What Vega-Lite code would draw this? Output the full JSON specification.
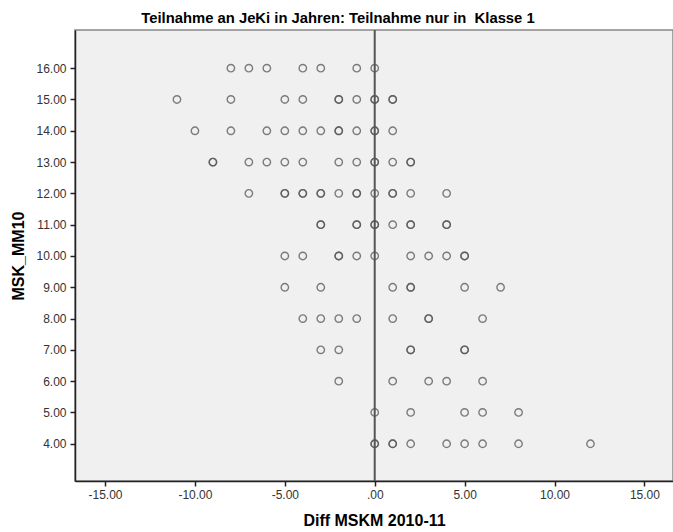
{
  "$schema": "https://vega.github.io/schema/vega-lite/v6.json",
  "width": 598,
  "height": 451,
  "autosize": {"type": "none"},
  "padding": {"left": 75, "top": 30, "right": 0, "bottom": 51},
  "background": "white",
  "config": {
    "view": {"fill": "#f0f0f0", "stroke": "#888888", "strokeWidth": 1.5},
    "font": "Liberation Sans"
  },
  "title": {
    "text": "Teilnahme an JeKi in Jahren: Teilnahme nur in \u00a0Klasse 1",
    "fontSize": 14.8,
    "fontWeight": "bold",
    "font": "Liberation Sans",
    "color": "#000000",
    "anchor": "middle",
    "dx": -36,
    "offset": 3
  },
  "datasets": {
    "points": [
      {"diff": -8, "msk": 16}, {"diff": -7, "msk": 16}, {"diff": -6, "msk": 16}, {"diff": -4, "msk": 16}, {"diff": -3, "msk": 16}, {"diff": -1, "msk": 16}, {"diff": 0, "msk": 16},
      {"diff": -11, "msk": 15}, {"diff": -8, "msk": 15}, {"diff": -5, "msk": 15}, {"diff": -4, "msk": 15}, {"diff": -2, "msk": 15}, {"diff": -2, "msk": 15}, {"diff": -1, "msk": 15}, {"diff": 0, "msk": 15}, {"diff": 0, "msk": 15}, {"diff": 1, "msk": 15}, {"diff": 1, "msk": 15},
      {"diff": -10, "msk": 14}, {"diff": -8, "msk": 14}, {"diff": -6, "msk": 14}, {"diff": -5, "msk": 14}, {"diff": -4, "msk": 14}, {"diff": -3, "msk": 14}, {"diff": -2, "msk": 14}, {"diff": -2, "msk": 14}, {"diff": -1, "msk": 14}, {"diff": 0, "msk": 14}, {"diff": 0, "msk": 14}, {"diff": 1, "msk": 14},
      {"diff": -9, "msk": 13}, {"diff": -9, "msk": 13}, {"diff": -7, "msk": 13}, {"diff": -6, "msk": 13}, {"diff": -5, "msk": 13}, {"diff": -4, "msk": 13}, {"diff": -2, "msk": 13}, {"diff": -1, "msk": 13}, {"diff": 0, "msk": 13}, {"diff": 0, "msk": 13}, {"diff": 1, "msk": 13}, {"diff": 2, "msk": 13}, {"diff": 2, "msk": 13},
      {"diff": -7, "msk": 12}, {"diff": -5, "msk": 12}, {"diff": -5, "msk": 12}, {"diff": -4, "msk": 12}, {"diff": -4, "msk": 12}, {"diff": -3, "msk": 12}, {"diff": -3, "msk": 12}, {"diff": -2, "msk": 12}, {"diff": -1, "msk": 12}, {"diff": -1, "msk": 12}, {"diff": 0, "msk": 12}, {"diff": 1, "msk": 12}, {"diff": 1, "msk": 12}, {"diff": 2, "msk": 12}, {"diff": 4, "msk": 12},
      {"diff": -3, "msk": 11}, {"diff": -3, "msk": 11}, {"diff": -1, "msk": 11}, {"diff": -1, "msk": 11}, {"diff": 0, "msk": 11}, {"diff": 0, "msk": 11}, {"diff": 1, "msk": 11}, {"diff": 2, "msk": 11}, {"diff": 2, "msk": 11}, {"diff": 4, "msk": 11}, {"diff": 4, "msk": 11},
      {"diff": -5, "msk": 10}, {"diff": -4, "msk": 10}, {"diff": -2, "msk": 10}, {"diff": -2, "msk": 10}, {"diff": -1, "msk": 10}, {"diff": 0, "msk": 10}, {"diff": 2, "msk": 10}, {"diff": 3, "msk": 10}, {"diff": 4, "msk": 10}, {"diff": 5, "msk": 10}, {"diff": 5, "msk": 10},
      {"diff": -5, "msk": 9}, {"diff": -3, "msk": 9}, {"diff": 1, "msk": 9}, {"diff": 2, "msk": 9}, {"diff": 2, "msk": 9}, {"diff": 5, "msk": 9}, {"diff": 7, "msk": 9},
      {"diff": -4, "msk": 8}, {"diff": -3, "msk": 8}, {"diff": -2, "msk": 8}, {"diff": -1, "msk": 8}, {"diff": 1, "msk": 8}, {"diff": 3, "msk": 8}, {"diff": 3, "msk": 8}, {"diff": 6, "msk": 8},
      {"diff": -3, "msk": 7}, {"diff": -2, "msk": 7}, {"diff": 2, "msk": 7}, {"diff": 2, "msk": 7}, {"diff": 5, "msk": 7}, {"diff": 5, "msk": 7},
      {"diff": -2, "msk": 6}, {"diff": 1, "msk": 6}, {"diff": 3, "msk": 6}, {"diff": 4, "msk": 6}, {"diff": 6, "msk": 6},
      {"diff": 0, "msk": 5}, {"diff": 2, "msk": 5}, {"diff": 5, "msk": 5}, {"diff": 6, "msk": 5}, {"diff": 8, "msk": 5},
      {"diff": 0, "msk": 4}, {"diff": 0, "msk": 4}, {"diff": 1, "msk": 4}, {"diff": 1, "msk": 4}, {"diff": 2, "msk": 4}, {"diff": 4, "msk": 4}, {"diff": 5, "msk": 4}, {"diff": 6, "msk": 4}, {"diff": 8, "msk": 4}, {"diff": 12, "msk": 4}
    ],
    "refline": [{"x": 0}]
  },
  "layer": [
    {
      "data": {"name": "refline"},
      "mark": {"type": "rule", "color": "#555555", "strokeWidth": 2},
      "encoding": {
        "x": {"field": "x", "type": "quantitative", "scale": {"domain": [-16.67, 16.59], "nice": false, "zero": false}}
      }
    },
    {
      "data": {"name": "points"},
      "mark": {"type": "point", "shape": "circle", "filled": false, "size": 55, "strokeWidth": 1.4, "color": "#555555", "opacity": 0.75},
      "encoding": {
        "x": {
          "field": "diff", "type": "quantitative",
          "scale": {"domain": [-16.67, 16.59], "nice": false, "zero": false},
          "axis": {
            "values": [-15, -10, -5, 0, 5, 10, 15],
            "labelExpr": "datum.value == 0 ? '.00' : replace(format(datum.value, '.2f'), '\u2212', '-')",
            "title": "Diff MSKM 2010-11",
            "titleFontSize": 16, "titleFontWeight": "bold", "titleColor": "#000000", "titleFont": "Liberation Sans",
            "titlePadding": 12,
            "labelFontSize": 12, "labelColor": "#333333", "labelFont": "Liberation Sans",
            "domainColor": "#222222", "domainWidth": 1.5, "tickColor": "#222222", "tickSize": 5, "tickWidth": 1.5,
            "grid": false, "labelPadding": 3
          }
        },
        "y": {
          "field": "msk", "type": "quantitative",
          "scale": {"domain": [2.81, 17.22], "nice": false, "zero": false},
          "axis": {
            "values": [4, 5, 6, 7, 8, 9, 10, 11, 12, 13, 14, 15, 16],
            "format": ".2f",
            "title": "MSK_MM10",
            "titleFontSize": 16, "titleFontWeight": "bold", "titleColor": "#000000", "titleFont": "Liberation Sans",
            "titlePadding": 9,
            "labelFontSize": 12, "labelColor": "#333333", "labelFont": "Liberation Sans",
            "domainColor": "#222222", "domainWidth": 1.5, "tickColor": "#222222", "tickSize": 5, "tickWidth": 1.5,
            "grid": false, "labelPadding": 4
          }
        }
      }
    }
  ]
}
